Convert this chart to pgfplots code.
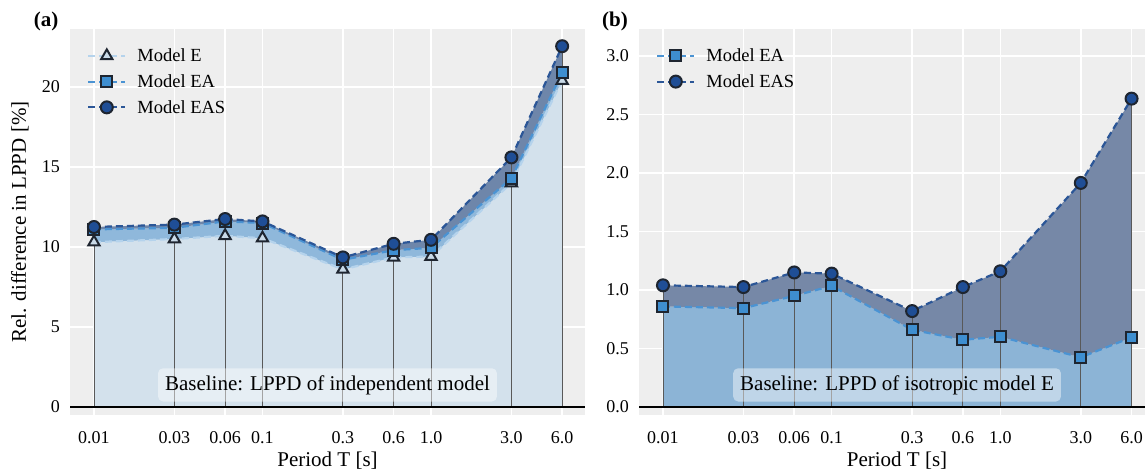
\documentclass[border=0pt]{standalone}
\usepackage{fontspec}
\setmainfont{Liberation Serif}
\usepackage{pgfplots}
\pgfplotsset{compat=1.18}
\usepgfplotslibrary{fillbetween}
\usepackage{pgfplotstable}

\definecolor{bg}{HTML}{EEEEEE}
\definecolor{fillE}{HTML}{D3E1EC}
\definecolor{fillEAa}{HTML}{8FB8DB}
\definecolor{fillEASa}{HTML}{6E86AA}
\definecolor{fillEAb}{HTML}{8CB4D6}
\definecolor{fillEASb}{HTML}{7688A7}
\definecolor{lineE}{HTML}{B5D3EC}
\definecolor{lineEA}{HTML}{4A93D3}
\definecolor{lineEAS}{HTML}{2B5697}
\definecolor{mkE}{HTML}{C9DAE8}
\definecolor{mkEA}{HTML}{3E8ED0}
\definecolor{mkEAS}{HTML}{1F4E96}
\definecolor{edge}{HTML}{1E2530}

\pgfplotstableread{
T E EA EAS
0.01 10.3 11.1 11.25
0.03 10.5 11.2 11.4
0.06 10.7 11.6 11.75
0.1 10.55 11.5 11.6
0.3 8.6 9.2 9.35
0.6 9.35 9.8 10.2
1.0 9.4 9.95 10.45
3.0 14.0 14.3 15.6
6.0 20.4 20.9 22.55
}\tabA

\pgfplotstableread{
T EA EAS
0.01 0.86 1.04
0.03 0.845 1.025
0.06 0.95 1.15
0.1 1.035 1.14
0.3 0.66 0.82
0.6 0.575 1.025
1.0 0.60 1.16
3.0 0.425 1.915
6.0 0.595 2.635
}\tabB

\pgfplotsset{
  panel/.style={
    scale only axis,
    width=#1, height=386pt,
    axis background/.style={fill=bg},
    axis line style={draw=none},
    grid=major, major grid style={white, line width=1.6pt},
    major tick length=0pt, minor tick length=0pt, xminorticks=false,
    xtick={0.01,0.03,0.06,0.1,0.3,0.6,1,3,6},
    xticklabels={0.01,0.03,0.06,0.1,0.3,0.6,1.0,3.0,6.0},
    ticklabel style={font=\fontsize{18}{18}\selectfont, inner sep=0pt},
    xticklabel style={anchor=base, yshift=-28.5pt},
    yticklabel style={anchor=east, xshift=-10pt},
    /pgf/number format/assume math mode=true,
    label style={font=\fontsize{21}{21}\selectfont},
    xlabel={Period T [s]},
    legend cell align=left,
    legend style={at={(0,1)}, anchor=north west, draw=none, fill=none,
      inner sep=0pt, font=\fontsize{18.5}{18.5}\selectfont, row sep=7.4pt,
      xshift=17pt, yshift=-17.5pt},
    legend image code/.code={\draw[mark repeat=2, mark phase=2, ##1]
      plot coordinates {(0pt,0pt) (18.5pt,0pt) (37pt,0pt)};
      \path (0pt,0pt) (46pt,0pt);},
  },
  sE/.style={lineE, line width=2.2pt, dash pattern=on 7pt off 4pt,
    mark=triangle*, mark size=6.5pt,
    mark options={solid, fill=mkE, draw=edge, line width=2pt}},
  sEA/.style={lineEA, line width=2.2pt, dash pattern=on 7pt off 4pt,
    mark=square*, mark size=5.5pt,
    mark options={solid, fill=mkEA, draw=edge, line width=2pt}},
  sEAS/.style={lineEAS, line width=2.2pt, dash pattern=on 7pt off 4pt,
    mark=*, mark size=6pt,
    mark options={solid, fill=mkEAS, draw=edge, line width=2pt}},
}

\begin{document}
\begin{tikzpicture}
\path (0,0) rectangle (1145pt,472pt);

% ---------------- panel (a)
\begin{axis}[xmode=log, panel=515pt, at={(70pt,57pt)}, anchor=south west,
  xmin=0.00721, xmax=8.2, ymin=-0.5, ymax=23.625,
  ytick={0,5,10,15,20},
  ylabel={Rel. difference in LPPD [\%]},
  ylabel style={at={(axis description cs:-0.0971,0.5)}, anchor=center},
  xlabel style={at={(axis description cs:0.5,-0.119)}, anchor=center},
]
\addplot[draw=none, name path=zero, forget plot] table[x=T, y expr=0]{\tabA};
\addplot[ycomb, draw=black!65, line width=0.8pt, forget plot] table[x=T, y=EAS]{\tabA};
\addplot[sE, name path=E] table[x=T, y=E]{\tabA};
\addlegendentry{Model E}
\addplot[sEA, name path=EA] table[x=T, y=EA]{\tabA};
\addlegendentry{Model EA}
\addplot[sEAS, name path=EAS] table[x=T, y=EAS]{\tabA};
\addlegendentry{Model EAS}
\addplot[fill=fillE, draw=none, forget plot] fill between[of=E and zero];
\addplot[fill=fillEAa, draw=none, forget plot] fill between[of=EA and E];
\addplot[fill=fillEASa, draw=none, forget plot] fill between[of=EAS and EA];
\addplot[black, line width=2pt, forget plot] coordinates {(0.00721,0) (8.2,0)};
\node[fill=white, fill opacity=0.45, text opacity=1, rounded corners=5pt,
  inner xsep=7pt, inner ysep=7pt, font=\fontsize{21}{21}\selectfont]
  at (rel axis cs:0.5,0.078) {Baseline: LPPD of independent model};
\end{axis}

% ---------------- panel (b)
\begin{axis}[xmode=log, panel=506pt, at={(639pt,57pt)}, anchor=south west,
  xmin=0.00721, xmax=7.21, ymin=-0.068, ymax=3.23,
  ytick={0,0.5,1,1.5,2,2.5,3},
  yticklabel style={/pgf/number format/.cd, fixed, fixed zerofill, precision=1},
  xlabel style={at={(axis description cs:0.51,-0.119)}, anchor=center},
]
\addplot[draw=none, name path=zero, forget plot] table[x=T, y expr=0]{\tabB};
\addplot[ycomb, draw=black!65, line width=0.8pt, forget plot] table[x=T, y=EAS]{\tabB};
\addplot[sEA, name path=EA] table[x=T, y=EA]{\tabB};
\addlegendentry{Model EA}
\addplot[sEAS, name path=EAS] table[x=T, y=EAS]{\tabB};
\addlegendentry{Model EAS}
\addplot[fill=fillEAb, draw=none, forget plot] fill between[of=EA and zero];
\addplot[fill=fillEASb, draw=none, forget plot] fill between[of=EAS and EA];
\addplot[black, line width=2pt, forget plot] coordinates {(0.00721,0) (7.21,0)};
\node[fill=white, fill opacity=0.45, text opacity=1, rounded corners=5pt,
  inner xsep=7pt, inner ysep=7pt, font=\fontsize{21}{21}\selectfont]
  at (rel axis cs:0.51,0.078) {Baseline: LPPD of isotropic model E};
\end{axis}

\node[font=\fontsize{21}{21}\selectfont\bfseries] at (46pt,451pt) {(a)};
\node[font=\fontsize{21}{21}\selectfont\bfseries] at (615pt,451pt) {(b)};
\pgfresetboundingbox
\useasboundingbox (0,0) rectangle (1145pt,472pt);
\end{tikzpicture}
\end{document}
